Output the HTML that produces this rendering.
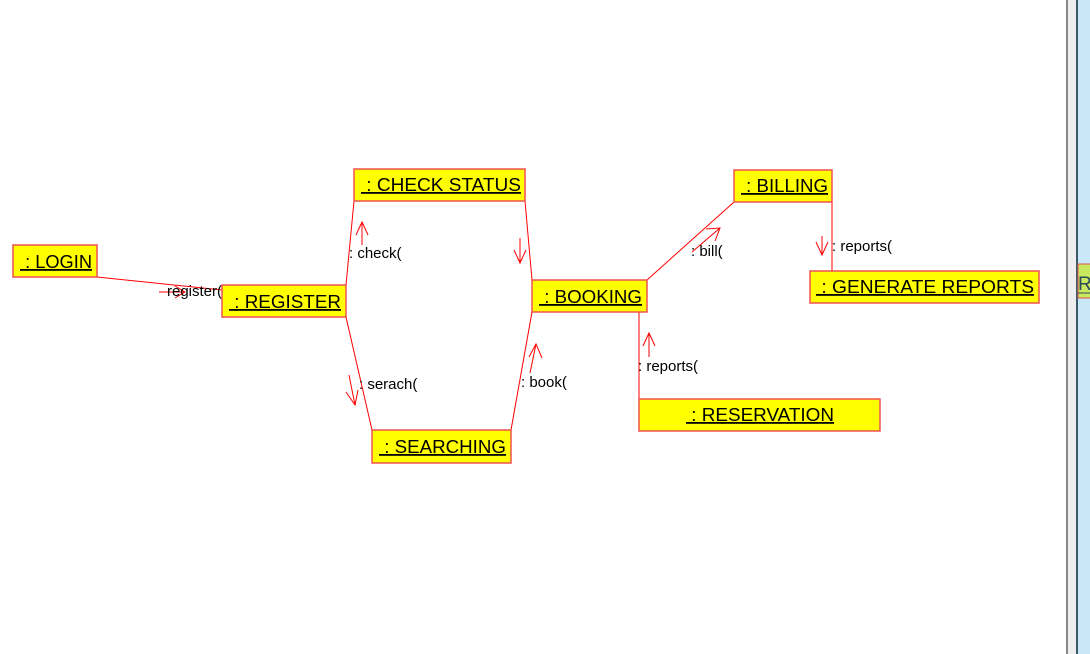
<!DOCTYPE html>
<html><head><meta charset="utf-8"><style>
html,body{margin:0;padding:0;background:#fff;}
svg{display:block;font-family:"Liberation Sans",sans-serif;}
.b{fill:#ffff00;stroke:#f05050;stroke-width:1.5;}
.t{font-size:18px;fill:#000;text-decoration:underline;}
.l{font-size:15px;fill:#000;}
.c{stroke:#f00;stroke-width:1;fill:none;}
</style></head><body>
<svg width="1090" height="654" viewBox="0 0 1090 654">
<rect x="0" y="0" width="1090" height="654" fill="#fff"/>
<line class="c" x1="97" y1="277" x2="222" y2="290"/>
<line class="c" x1="346" y1="285" x2="354" y2="201"/>
<line class="c" x1="346" y1="317" x2="372" y2="430"/>
<line class="c" x1="525" y1="201" x2="532" y2="280"/>
<line class="c" x1="511" y1="430" x2="532" y2="312"/>
<line class="c" x1="647" y1="280" x2="734" y2="202"/>
<line class="c" x1="832" y1="202" x2="832" y2="271"/>
<line class="c" x1="639" y1="312" x2="639" y2="399"/>
<path class="c" d="M159 292 L185 292 M175 286 L185 292 L175 298"/>
<path class="c" d="M362 245 L362 222 M356 235 L362 222 L368 235"/>
<path class="c" d="M520 238 L520 263 M514 250 L520 263 L526 250"/>
<path class="c" d="M349 375 L355 405 M346 392 L355 405 L358 390"/>
<path class="c" d="M530 373 L536 344 M529 357 L536 344 L542 358"/>
<path class="c" d="M692 252 L720 228 M706 229 L720 228 L715 241"/>
<path class="c" d="M822 236 L822 255 M816 242 L822 255 L828 242"/>
<path class="c" d="M649 357 L649 333 M643 346 L649 333 L655 346"/>
<text class="l" x="167" y="296">register(</text>
<text class="l" x="349" y="258">: check(</text>
<text class="l" x="359" y="389">: serach(</text>
<text class="l" x="521" y="387">: book(</text>
<text class="l" x="691" y="256">: bill(</text>
<text class="l" x="832" y="251">: reports(</text>
<text class="l" x="638" y="371">: reports(</text>
<rect class="b" x="13" y="245" width="84" height="32"/>
<text class="t" x="20" y="268" textLength="72" lengthAdjust="spacingAndGlyphs">&#160;: LOGIN</text>
<rect class="b" x="222" y="285" width="124" height="32"/>
<text class="t" x="229" y="308" textLength="112" lengthAdjust="spacingAndGlyphs">&#160;: REGISTER</text>
<rect class="b" x="354" y="169" width="171" height="32"/>
<text class="t" x="361" y="191" textLength="160" lengthAdjust="spacingAndGlyphs">&#160;: CHECK STATUS</text>
<rect class="b" x="372" y="430" width="139" height="33"/>
<text class="t" x="379" y="453" textLength="127" lengthAdjust="spacingAndGlyphs">&#160;: SEARCHING</text>
<rect class="b" x="532" y="280" width="115" height="32"/>
<text class="t" x="539" y="303" textLength="103" lengthAdjust="spacingAndGlyphs">&#160;: BOOKING</text>
<rect class="b" x="734" y="170" width="98" height="32"/>
<text class="t" x="741" y="192" textLength="87" lengthAdjust="spacingAndGlyphs">&#160;: BILLING</text>
<rect class="b" x="810" y="271" width="229" height="32"/>
<text class="t" x="816" y="293" textLength="218" lengthAdjust="spacingAndGlyphs">&#160;: GENERATE REPORTS</text>
<rect class="b" x="639" y="399" width="241" height="32"/>
<text class="t" x="686" y="421" textLength="148" lengthAdjust="spacingAndGlyphs">&#160;: RESERVATION</text>
<rect x="1066" y="0" width="2" height="654" fill="#888"/>
<rect x="1068" y="0" width="8" height="654" fill="#eeeeee"/>
<rect x="1076" y="0" width="2" height="654" fill="#3a5a6a"/>
<rect x="1078" y="0" width="12" height="654" fill="#c8e8f8"/>
<rect x="1078" y="264" width="14" height="34" fill="#c8e860" stroke="#e05050" stroke-width="1"/>
<text x="1078" y="290" style="font-size:19px;fill:#2a4a5a">R</text>
<line x1="1078" y1="293" x2="1090" y2="293" stroke="#2a4a5a" stroke-width="1"/>
</svg>
</body></html>
